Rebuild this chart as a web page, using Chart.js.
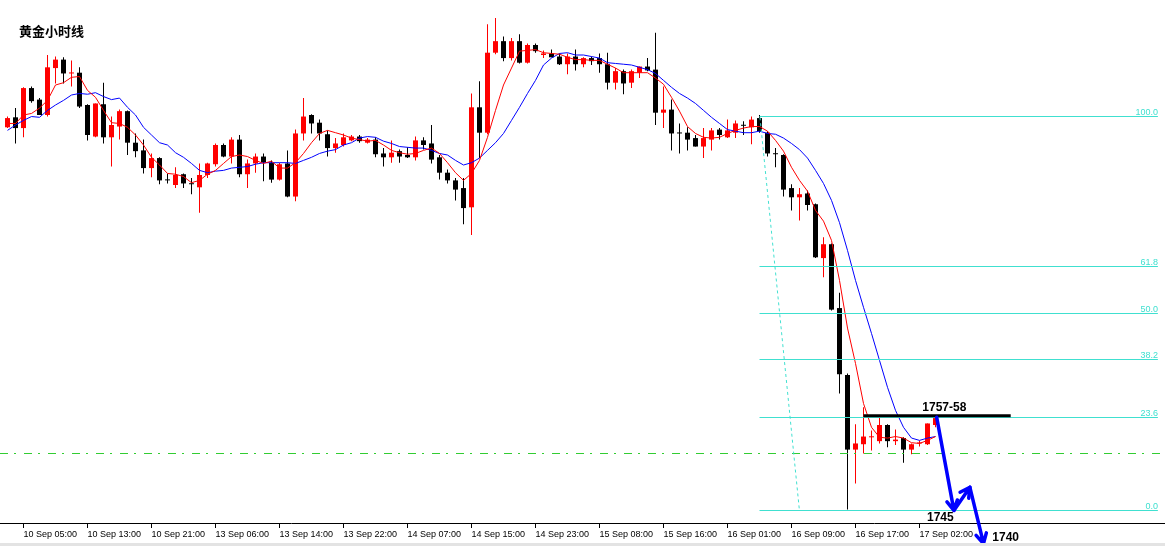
<!DOCTYPE html>
<html>
<head>
<meta charset="utf-8">
<title>黄金小时线</title>
<script src="https://cdn.jsdelivr.net/npm/chart.js@4.4.1/dist/chart.umd.min.js"></script>
<style>
  html, body { margin: 0; padding: 0; background: #fff; }
  #wrap { width: 1165px; height: 546px; position: relative; }
</style>
</head>
<body>
<div id="wrap"><canvas id="gold" width="1165" height="546"></canvas></div>
<script>
// XAUUSD H1, one value per candle (index 0 = leftmost visible bar)
const OPEN = [
  1794.9, 1796.2, 1794.8, 1800.0, 1798.5, 1796.5, 1802.6, 1803.7, 1801.9, 1802.0,
  1797.8, 1793.7, 1797.9, 1793.6, 1795.0, 1797.0, 1792.9, 1791.9, 1789.6, 1790.9,
  1788.1, 1787.4, 1788.8, 1787.6, 1787.1, 1788.7, 1790.1, 1792.6, 1791.1, 1793.3,
  1788.8, 1790.2, 1791.1, 1790.3, 1788.1, 1790.2, 1785.9, 1794.1, 1796.5, 1795.5,
  1794.0, 1792.2, 1792.6, 1793.2, 1793.7, 1792.9, 1793.3, 1791.5, 1791.0, 1791.8,
  1791.3, 1791.0, 1793.2, 1792.8, 1791.0, 1789.0, 1788.0, 1787.0, 1784.5, 1797.5,
  1794.2, 1804.6, 1806.1, 1803.9, 1806.1, 1803.3, 1805.6, 1804.3, 1804.5, 1804.1,
  1803.1, 1804.1, 1803.1, 1803.9, 1803.9, 1803.1, 1800.7, 1802.2, 1800.7, 1802.0,
  1802.8, 1802.4, 1796.8, 1797.2, 1794.2, 1794.2, 1793.5, 1792.4, 1793.3, 1794.6,
  1793.6, 1794.2, 1795.2, 1794.9, 1796.1, 1794.2, 1791.5, 1791.3, 1787.0, 1785.8,
  1786.3, 1784.9, 1777.9, 1779.7, 1771.4, 1762.7, 1753.0, 1753.7, 1754.6, 1754.1,
  1756.2, 1754.1, 1754.5, 1753.0, 1753.8, 1753.7, 1756.2
];
const HIGH = [
  1796.3, 1797.4, 1800.1, 1800.2, 1798.7, 1804.3, 1804.1, 1804.0, 1803.6, 1802.7,
  1797.9, 1798.0, 1800.7, 1796.3, 1797.2, 1797.1, 1794.1, 1793.3, 1791.5, 1791.0,
  1788.9, 1789.7, 1788.9, 1788.3, 1790.2, 1790.3, 1792.8, 1792.8, 1793.6, 1793.9,
  1790.7, 1791.5, 1791.5, 1790.6, 1790.3, 1791.9, 1794.6, 1798.7, 1796.6, 1795.9,
  1794.5, 1793.5, 1794.1, 1793.9, 1793.9, 1793.5, 1793.6, 1792.2, 1793.2, 1792.0,
  1792.3, 1793.7, 1793.6, 1795.2, 1791.3, 1789.4, 1788.3, 1788.3, 1799.3, 1800.9,
  1808.3, 1809.1, 1806.7, 1806.5, 1807.0, 1805.8, 1805.8, 1804.9, 1805.0, 1804.5,
  1804.5, 1805.0, 1804.0, 1804.1, 1804.5, 1804.6, 1802.6, 1802.4, 1802.4, 1802.8,
  1803.9, 1807.2, 1800.2, 1798.5, 1795.4, 1794.9, 1793.9, 1794.8, 1794.8, 1794.8,
  1795.9, 1795.8, 1795.7, 1796.3, 1796.5, 1794.4, 1792.2, 1791.4, 1787.5, 1787.0,
  1786.7, 1785.0, 1780.6, 1779.8, 1773.4, 1762.9, 1756.3, 1758.5, 1755.5, 1757.2,
  1756.3, 1755.6, 1754.6, 1753.8, 1754.2, 1756.4, 1757.3
];
const LOW = [
  1794.8, 1792.8, 1793.6, 1798.1, 1796.5, 1796.3, 1800.6, 1800.6, 1800.2, 1797.4,
  1793.2, 1793.6, 1792.8, 1789.8, 1793.3, 1791.3, 1791.0, 1788.9, 1788.4, 1787.5,
  1787.6, 1787.0, 1787.0, 1786.2, 1783.8, 1788.3, 1789.8, 1791.0, 1790.2, 1788.4,
  1787.0, 1789.0, 1787.9, 1787.7, 1788.0, 1785.8, 1785.3, 1793.2, 1794.1, 1793.2,
  1791.1, 1791.6, 1792.4, 1793.1, 1792.9, 1792.8, 1791.0, 1789.8, 1790.3, 1790.3,
  1790.9, 1790.6, 1792.0, 1790.2, 1788.1, 1787.6, 1785.4, 1782.3, 1780.9, 1790.9,
  1794.0, 1804.4, 1803.5, 1803.6, 1803.2, 1803.2, 1804.6, 1803.9, 1804.0, 1803.0,
  1801.8, 1802.3, 1802.7, 1803.0, 1802.0, 1799.8, 1799.8, 1799.2, 1800.0, 1801.3,
  1802.2, 1795.2, 1794.8, 1791.9, 1791.5, 1791.9, 1792.4, 1790.9, 1791.9, 1793.3,
  1793.5, 1793.5, 1793.9, 1792.7, 1794.2, 1791.1, 1789.7, 1785.9, 1784.1, 1782.8,
  1784.1, 1777.9, 1775.4, 1771.1, 1760.3, 1745.2, 1748.6, 1752.5, 1752.9, 1753.8,
  1753.3, 1753.6, 1751.3, 1752.4, 1753.4, 1753.6, 1755.9
];
const CLOSE = [
  1796.1, 1794.8, 1800.0, 1798.3, 1796.5, 1802.7, 1803.7, 1801.9, 1802.0, 1797.6,
  1793.9, 1798.0, 1793.6, 1795.2, 1797.0, 1792.9, 1791.8, 1789.6, 1790.9, 1788.0,
  1788.0, 1788.7, 1787.6, 1787.5, 1788.7, 1790.2, 1792.6, 1791.1, 1793.3, 1788.8,
  1790.2, 1791.1, 1790.3, 1788.1, 1790.1, 1785.9, 1794.1, 1796.3, 1795.4, 1794.1,
  1792.2, 1792.8, 1793.6, 1793.7, 1793.1, 1793.3, 1791.4, 1791.0, 1791.6, 1791.1,
  1791.0, 1793.2, 1792.6, 1790.7, 1789.0, 1788.0, 1786.8, 1784.4, 1797.5, 1794.2,
  1804.6, 1806.1, 1803.9, 1806.1, 1803.3, 1805.6, 1804.8, 1804.5, 1804.0, 1803.1,
  1804.1, 1803.1, 1803.9, 1803.5, 1803.1, 1800.7, 1802.2, 1800.6, 1802.2, 1802.8,
  1802.3, 1796.8, 1797.2, 1794.1, 1794.1, 1793.3, 1792.4, 1793.5, 1794.5, 1793.9,
  1794.5, 1795.4, 1795.1, 1795.9, 1794.4, 1791.5, 1791.4, 1786.8, 1785.8, 1786.2,
  1784.8, 1778.0, 1779.7, 1771.2, 1762.8, 1753.0, 1753.8, 1754.7, 1754.7, 1756.2,
  1754.1, 1754.3, 1753.0, 1753.7, 1753.9, 1756.4, 1757.1
];
// moving averages as plotted (red = fast, blue = slow)
const MA_FAST = [
  1795.4, 1795.4, 1796.5, 1796.7, 1797.4, 1798.4, 1800.4, 1800.7, 1801.4, 1801.5,
  1799.7, 1798.8, 1797.1, 1795.5, 1795.4, 1794.9, 1793.9, 1792.6, 1791.0, 1790.0,
  1788.9, 1788.8, 1788.5, 1787.7, 1788.0, 1788.8, 1789.3, 1790.2, 1791.1, 1791.3,
  1791.1, 1790.6, 1790.2, 1790.5, 1789.6, 1789.6, 1790.3, 1791.5, 1792.9, 1794.1,
  1794.5, 1794.2, 1793.9, 1793.5, 1793.3, 1793.1, 1793.2, 1792.6, 1791.9, 1791.6,
  1791.4, 1791.5, 1791.9, 1792.2, 1791.5, 1790.3, 1789.0, 1788.0, 1788.9, 1790.6,
  1793.6, 1797.1, 1800.4, 1802.6, 1804.8, 1804.9, 1805.0, 1804.6, 1804.5, 1804.4,
  1804.0, 1803.7, 1803.7, 1803.6, 1803.6, 1803.1, 1802.6, 1802.0, 1802.0, 1802.0,
  1802.0, 1801.3, 1800.5, 1798.8, 1797.0, 1795.0, 1794.1, 1793.6, 1793.5, 1793.6,
  1794.1, 1794.5, 1794.8, 1795.0, 1795.0, 1794.4, 1793.2, 1791.8, 1789.7, 1788.0,
  1786.6, 1784.1, 1782.7, 1780.2, 1775.0, 1768.8, 1764.2, 1759.0, 1755.9, 1754.6,
  1754.5, 1754.7, 1754.5, 1753.9, 1753.8, 1754.2, 1754.7
];
const MA_SLOW = [
  1794.5, 1795.2, 1795.8, 1796.3, 1796.2, 1797.1, 1797.8, 1798.4, 1799.1, 1799.3,
  1799.2, 1799.4, 1798.9, 1798.5, 1798.7, 1797.5, 1796.5, 1794.9, 1793.9, 1792.9,
  1792.6, 1791.6, 1791.0, 1790.2, 1789.3, 1789.0, 1789.2, 1789.3, 1789.6, 1789.7,
  1789.8, 1790.1, 1790.3, 1790.3, 1790.3, 1790.3, 1790.2, 1790.6, 1791.0, 1791.5,
  1791.8, 1792.0, 1792.6, 1792.9, 1793.5, 1793.7, 1793.6, 1793.1, 1792.8, 1792.4,
  1792.3, 1792.2, 1792.2, 1791.9, 1791.5, 1791.3, 1790.6, 1790.0, 1790.3, 1790.9,
  1791.9, 1792.9, 1794.1, 1795.8, 1797.5, 1799.3, 1801.0, 1803.0, 1803.9, 1804.5,
  1804.6, 1804.3, 1804.3, 1804.1, 1803.9, 1803.3, 1803.2, 1803.1, 1803.0, 1802.7,
  1802.4, 1801.9, 1801.0, 1800.1, 1799.3, 1798.7, 1798.0, 1797.1, 1796.2, 1795.4,
  1794.6, 1794.4, 1794.2, 1794.2, 1794.4, 1794.1, 1794.0, 1793.5, 1792.8, 1792.0,
  1790.9, 1789.3, 1787.6, 1785.4, 1782.5, 1778.9, 1775.0, 1771.5, 1768.1, 1764.6,
  1761.1, 1758.1, 1755.9, 1754.5, 1754.2, 1754.5, 1754.7
];

// time axis: a label every 8 bars
const TICK_INDEX  = [2, 10, 18, 26, 34, 42, 50, 58, 66, 74, 82, 90, 98, 106, 114];
const TICK_LABELS = [
  '10 Sep 05:00', '10 Sep 13:00', '10 Sep 21:00', '13 Sep 06:00', '13 Sep 14:00',
  '13 Sep 22:00', '14 Sep 07:00', '14 Sep 15:00', '14 Sep 23:00', '15 Sep 08:00',
  '15 Sep 16:00', '16 Sep 01:00', '16 Sep 09:00', '16 Sep 17:00', '17 Sep 02:00'
];

// drawn objects
const FIB_HIGH   = 1796.4;
const FIB_LOW    = 1745.2;
const FIB_LEVELS = [0, 23.6, 38.2, 50, 61.8, 100];
const FIB_FROM   = 94;
const FIB_TO     = 143.8;
const FIB_DIAG   = [[94.06, 1796.2], [98.98, 1745.2]];
const HLINE_PRICE = 1752.5;
const RESIST     = { from: 107, to: 125.4, price: 1757.4, text: '1757-58', at: 117.1 };
const FORECAST   = [[116.15, 1757.2], [118.3, 1745.1], [120.3, 1748.1], [122.0, 1740.8]];
const NOTES      = [
  { text: '1745', x: 116.6, p: 1743.7, align: 'center' },
  { text: '1740', x: 123.1, p: 1741.1, align: 'left' }
];

const X_MIN = -0.9375, X_MAX = 144.6875;
const Y_MAX = 1811.45, Y_MIN = 1743.46;

const UP = '#ff0000', DOWN = '#000000', FIB = '#40e0d0';
const candleColor = i => CLOSE[i] >= OPEN[i] ? UP : DOWN;

function arrowTo(c, x1, y1, x2, y2) {
  const a = Math.atan2(y2 - y1, x2 - x1);
  const len = 11;
  c.beginPath();
  c.moveTo(x1, y1); c.lineTo(x2, y2);
  c.moveTo(x2 - len * Math.cos(a - 0.5), y2 - len * Math.sin(a - 0.5));
  c.lineTo(x2, y2);
  c.lineTo(x2 - len * Math.cos(a + 0.5), y2 - len * Math.sin(a + 0.5));
  c.stroke();
}

const overlay = {
  id: 'overlay',
  afterDatasetsDraw(chart) {
    const { ctx: c, scales: { x, y } } = chart;
    const crisp = v => Math.round(v) + 0.5;
    c.save();

    // green dash-dot line
    c.strokeStyle = '#32cd32';
    c.lineWidth = 1;
    c.setLineDash([8, 6, 2, 8]);
    c.beginPath();
    c.moveTo(0, crisp(y.getPixelForValue(HLINE_PRICE)));
    c.lineTo(chart.width, crisp(y.getPixelForValue(HLINE_PRICE)));
    c.stroke();

    // fibonacci levels
    c.setLineDash([]);
    c.strokeStyle = FIB;
    c.fillStyle = FIB;
    c.font = '9px "Liberation Sans", Arial, sans-serif';
    c.textAlign = 'right';
    c.textBaseline = 'alphabetic';
    const fx1 = x.getPixelForValue(FIB_FROM), fx2 = x.getPixelForValue(FIB_TO);
    FIB_LEVELS.forEach(l => {
      const py = crisp(y.getPixelForValue(FIB_LOW + (FIB_HIGH - FIB_LOW) * l / 100));
      c.beginPath(); c.moveTo(fx1, py); c.lineTo(fx2, py); c.stroke();
      c.fillText(l.toFixed(1), fx2, py - 2);
    });
    c.setLineDash([3, 3]);
    c.beginPath();
    c.moveTo(x.getPixelForValue(FIB_DIAG[0][0]), y.getPixelForValue(FIB_DIAG[0][1]));
    c.lineTo(x.getPixelForValue(FIB_DIAG[1][0]), y.getPixelForValue(FIB_DIAG[1][1]));
    c.stroke();
    c.setLineDash([]);

    // 1757-58 resistance
    const ry = y.getPixelForValue(RESIST.price);
    c.strokeStyle = '#000';
    c.lineWidth = 3;
    c.beginPath();
    c.moveTo(x.getPixelForValue(RESIST.from), ry);
    c.lineTo(x.getPixelForValue(RESIST.to), ry);
    c.stroke();
    c.fillStyle = '#000';
    c.font = 'bold 12px "Liberation Sans", Arial, sans-serif';
    c.textAlign = 'center';
    c.fillText(RESIST.text, x.getPixelForValue(RESIST.at), ry - 5);
    c.restore();
  },
  afterDraw(chart) {
    const { ctx: c, scales: { x, y } } = chart;
    c.save();

    // forecast arrows
    c.strokeStyle = '#0000ff';
    c.lineWidth = 3.5;
    c.lineJoin = 'round';
    c.lineCap = 'round';
    for (let i = 1; i < FORECAST.length; i++) {
      arrowTo(c,
        x.getPixelForValue(FORECAST[i - 1][0]), y.getPixelForValue(FORECAST[i - 1][1]),
        x.getPixelForValue(FORECAST[i][0]), y.getPixelForValue(FORECAST[i][1]));
    }

    c.fillStyle = '#000';
    c.font = 'bold 12px "Liberation Sans", Arial, sans-serif';
    c.textBaseline = 'alphabetic';
    NOTES.forEach(n => {
      c.textAlign = n.align;
      c.fillText(n.text, x.getPixelForValue(n.x), y.getPixelForValue(n.p));
    });

    // title
    c.textAlign = 'left';
    c.font = 'bold 13px "Noto Sans CJK SC", sans-serif';
    c.fillText('黄金小时线', 19, 36);

    // window edge
    c.fillStyle = '#e3e3e3';
    c.fillRect(0, 543, chart.width, 3);
    c.restore();
  }
};

new Chart(document.getElementById('gold'), {
  type: 'bar',
  plugins: [overlay],
  data: {
    datasets: [
      {
        type: 'line',
        data: MA_FAST.map((v, i) => ({ x: i, y: v })),
        borderColor: '#ff0000',
        borderWidth: 1,
        pointRadius: 0,
        tension: 0,
        order: 0
      },
      {
        type: 'line',
        data: MA_SLOW.map((v, i) => ({ x: i, y: v })),
        borderColor: '#0000ff',
        borderWidth: 1,
        pointRadius: 0,
        tension: 0,
        order: 0
      },
      {
        data: OPEN.map((o, i) => ({ x: i, y: [o, CLOSE[i]] })),
        backgroundColor: ctx => candleColor(ctx.dataIndex),
        barThickness: 5,
        minBarLength: 1,
        borderWidth: 0,
        inflateAmount: 0,
        grouped: false,
        order: 1
      },
      {
        data: LOW.map((l, i) => ({ x: i, y: [l, HIGH[i]] })),
        backgroundColor: ctx => candleColor(ctx.dataIndex),
        barThickness: 1,
        borderWidth: 0,
        inflateAmount: 0,
        grouped: false,
        order: 2
      }
    ]
  },
  options: {
    responsive: false,
    animation: false,
    devicePixelRatio: 1,
    layout: { padding: 0 },
    plugins: { legend: { display: false }, tooltip: { enabled: false } },
    scales: {
      x: {
        type: 'linear',
        min: X_MIN, max: X_MAX,
        offset: false,
        afterBuildTicks: s => { s.ticks = TICK_INDEX.map(v => ({ value: v })); },
        afterFit: s => { s.height = 23; },
        ticks: {
          autoSkip: false,
          maxRotation: 0,
          align: 'start',
          padding: 1,
          color: '#000',
          font: { family: '"Liberation Sans", Arial, sans-serif', size: 9 },
          callback: v => TICK_LABELS[TICK_INDEX.indexOf(v)]
        },
        grid: { offset: false, drawOnChartArea: false, drawTicks: true, tickLength: 5, tickColor: '#000' },
        border: { display: true, color: '#000', width: 1 }
      },
      y: { display: false, min: Y_MIN, max: Y_MAX }
    }
  }
});
</script>
</body>
</html>
